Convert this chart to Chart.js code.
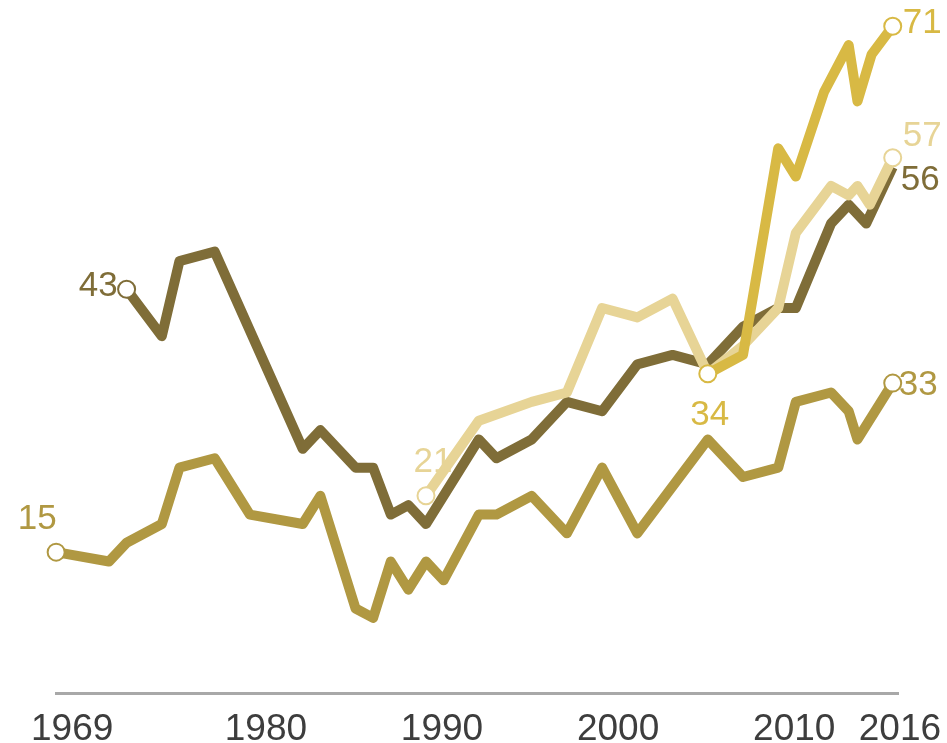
<!DOCTYPE html>
<html>
<head>
<meta charset="utf-8">
<script src="https://cdn.jsdelivr.net/npm/chart.js@4.4.1/dist/chart.umd.min.js"></script>
<style>
  html, body { margin: 0; padding: 0; background: #fff; }
  #wrap { width: 947px; height: 743px; position: relative; }
</style>
</head>
<body>
<div id="wrap"><canvas id="chart"></canvas></div>
<script>
// ── data ──
const tickYears = [1969, 1980, 1990, 2000, 2010, 2016];

const millYears  = [2006, 2008, 2010, 2011, 2012.6, 2014, 2014.5, 2015.3, 2016.5];
const millValues = [34, 36, 58, 55, 64, 69, 63, 68, 71];

const genxYears  = [1990, 1993, 1996, 1998, 2000, 2002, 2004, 2006, 2008, 2010, 2011, 2013, 2014, 2014.5, 2015.2, 2016.5];
const genxValues = [21, 29, 31, 32, 41, 40, 42, 34, 37, 41, 49, 54, 53, 54, 52, 57];

const boomYears  = [1973, 1975, 1976, 1978, 1983, 1984, 1986, 1987, 1988, 1989, 1990, 1993, 1994, 1996, 1998, 2000, 2002, 2004, 2006, 2008, 2010, 2011, 2013, 2014, 2015, 2016.5];
const boomValues = [43, 38, 46, 47, 26, 28, 24, 24, 19, 20, 18, 27, 25, 27, 31, 30, 35, 36, 35, 39, 41, 41, 50, 52, 50, 56];

const silentYears  = [1969, 1972, 1973, 1975, 1976, 1978, 1980, 1983, 1984, 1986, 1987, 1988, 1989, 1990, 1991, 1993, 1994, 1996, 1998, 2000, 2002, 2006, 2008, 2010, 2011, 2013, 2014, 2014.5, 2016.5];
const silentValues = [15, 14, 16, 18, 24, 25, 19, 18, 21, 9, 8, 14, 11, 14, 12, 19, 19, 21, 17, 24, 17, 27, 23, 24, 31, 32, 30, 27, 33];

const C_MILL   = '#d8b944';
const C_GENX   = '#e7d496';
const C_BOOM   = '#7f6d38';
const C_SILENT = '#b09842';
const FONT = '"Liberation Sans", Arial, sans-serif';

function pts(xs, ys) { return xs.map((x, i) => ({ x, y: ys[i] })); }
// circle at first / last point only
function ends(n, first, last) { return Array.from({ length: n }, (_, i) => (i === 0 && first) || (i === n - 1 && last) ? 8.5 : 0); }

function series(label, xs, ys, color, first, last) {
  return {
    label, data: pts(xs, ys),
    borderColor: color, borderWidth: 10, borderJoinStyle: 'round', borderCapStyle: 'butt',
    tension: 0, fill: false, clip: false,
    pointRadius: ends(xs.length, first, last), pointHoverRadius: 0,
    pointBackgroundColor: '#fff', pointBorderColor: color, pointBorderWidth: 2
  };
}

// first / last value labels
const labelSpecs = [
  { ds: 0, at: 'first', dx: 2,   dy: 42,  align: 'center', color: C_MILL },
  { ds: 0, at: 'last',  dx: 10,  dy: -3,  align: 'left',   color: C_MILL },
  { ds: 1, at: 'first', dx: 7,   dy: -33, align: 'center', color: C_GENX },
  { ds: 1, at: 'last',  dx: 10,  dy: -21, align: 'left',   color: C_GENX },
  { ds: 2, at: 'first', dx: -9,  dy: -3,  align: 'right',  color: C_BOOM },
  { ds: 2, at: 'last',  dx: 8,   dy: 13,  align: 'left',   color: C_BOOM },
  { ds: 3, at: 'first', dx: -19, dy: -33, align: 'center', color: C_SILENT },
  { ds: 3, at: 'last',  dx: 6,   dy: 2,   align: 'left',   color: C_SILENT },
];

const endLabels = {
  id: 'endLabels',
  afterDatasetsDraw(chart) {
    const ctx = chart.ctx;
    ctx.save();
    ctx.font = '35px ' + FONT;
    ctx.textBaseline = 'middle';
    labelSpecs.forEach(s => {
      const meta = chart.getDatasetMeta(s.ds);
      const ds = chart.data.datasets[s.ds];
      const i = s.at === 'first' ? 0 : ds.data.length - 1;
      const p = meta.data[i];
      ctx.fillStyle = s.color;
      ctx.textAlign = s.align;
      ctx.fillText(String(ds.data[i].y), p.x + s.dx, p.y + s.dy);
    });
    ctx.restore();
  }
};

new Chart(document.getElementById('chart'), {
  type: 'line',
  data: {
    datasets: [
      series('Millennials', millYears, millValues, C_MILL, true, true),
      series('Gen X', genxYears, genxValues, C_GENX, true, true),
      series('Boomers', boomYears, boomValues, C_BOOM, true, false),
      series('Silent', silentYears, silentValues, C_SILENT, true, true),
    ]
  },
  options: {
    responsive: true, maintainAspectRatio: false, animation: false,
    layout: { autoPadding: false, padding: { left: 53, right: 49, top: 0, bottom: 0 } },
    plugins: { legend: { display: false }, tooltip: { enabled: false } },
    scales: {
      x: {
        type: 'linear', min: 1969, max: 2016.8,
        afterBuildTicks: axis => { axis.ticks = tickYears.map(v => ({ value: v })); },
        afterFit: axis => { axis.height = 50; },
        grid: { display: false, drawTicks: false },
        border: { display: true, color: '#a8a8a8', width: 3 },
        ticks: { callback: v => String(v), color: '#3d3d3d', font: { family: FONT, size: 37 }, padding: 15, labelOffset: 16, maxRotation: 0, autoSkip: false }
      },
      y: { display: false, min: 0, max: 73.8 }
    }
  },
  plugins: [endLabels]
});
</script>
</body>
</html>
